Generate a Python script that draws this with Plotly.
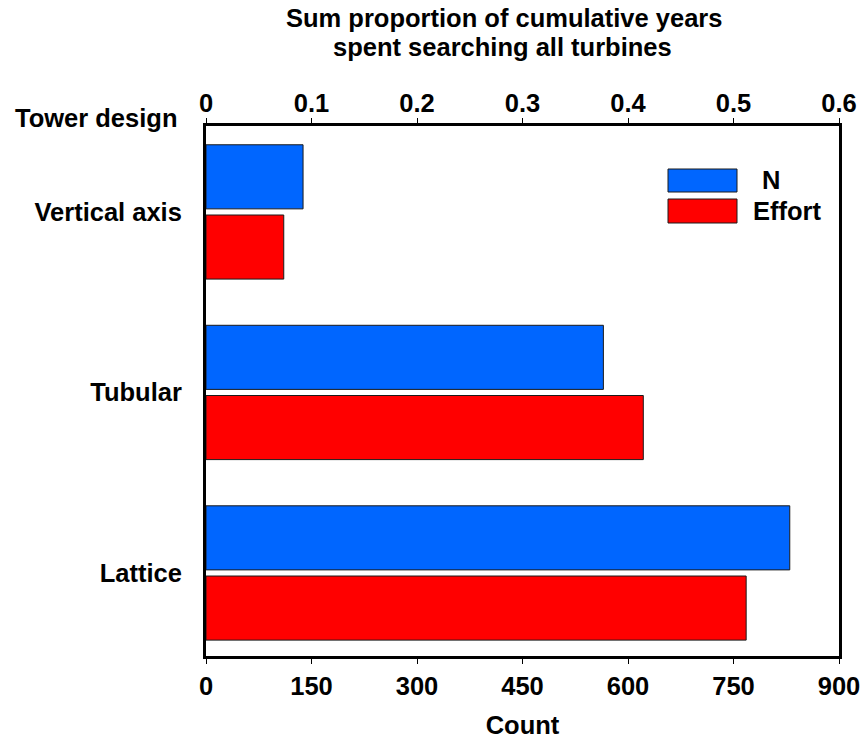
import plotly.graph_objects as go

categories = ["Lattice", "Tubular", "Vertical axis"]
n_counts = [830, 565, 138]
effort_prop = [0.512, 0.4145, 0.0737]
bottom_ticks = [0, 150, 300, 450, 600, 750, 900]
top_ticks = [0, 0.1, 0.2, 0.3, 0.4, 0.5, 0.6]

FONT = "Arial, Liberation Sans, Helvetica, sans-serif"
BLUE = "#0066FF"
RED = "#FF0000"
FS = 25.5

fig = go.Figure()
fig.add_trace(go.Bar(
    y=categories, x=n_counts, orientation="h", name="N",
    marker=dict(color=BLUE, line=dict(color="#1a1a1a", width=1)),
    width=0.355, offset=0.017, xaxis="x", yaxis="y", showlegend=False,
))
fig.add_trace(go.Bar(
    y=categories, x=effort_prop, orientation="h", name="Effort",
    marker=dict(color=RED, line=dict(color="#1a1a1a", width=1)),
    width=0.355, offset=-0.372, xaxis="x2", yaxis="y", showlegend=False,
))

tickfont = dict(family=FONT, size=FS, color="black", weight="bold")
bold = dict(family=FONT, size=FS, color="black", weight="bold")

fig.update_layout(
    width=862, height=742,
    margin=dict(l=206, r=23, t=126, b=86, autoexpand=False),
    paper_bgcolor="white", plot_bgcolor="white",
    barmode="overlay",
    xaxis=dict(
        range=[0, 900], tickvals=bottom_ticks, ticktext=[str(v) for v in bottom_ticks],
        showline=True, linecolor="black", linewidth=3, automargin=False,
        ticks="outside", ticklen=5, tickwidth=1, tickcolor="black",
        showgrid=False, zeroline=False, tickfont=tickfont,
        title=dict(text="Count", font=bold, standoff=18),
    ),
    xaxis2=dict(
        range=[0, 0.6], tickvals=top_ticks, ticktext=["0", "0.1", "0.2", "0.3", "0.4", "0.5", "0.6"],
        overlaying="x", side="top", anchor="y", automargin=False,
        showline=True, linecolor="black", linewidth=3,
        ticks="outside", ticklen=5, tickwidth=1, tickcolor="black",
        showgrid=False, zeroline=False, tickfont=tickfont,
        ticklabelstandoff=-4,
    ),
    yaxis=dict(
        type="category", categoryorder="array", categoryarray=categories,
        range=[-0.46, 2.476], automargin=False,
        showline=True, linecolor="black", linewidth=3, mirror=True,
        ticks="", showgrid=False, zeroline=False, tickfont=tickfont,
        ticklabelstandoff=16,
    ),
)

def py(v):
    return (656 - v) / 530

def px(v):
    return (v - 206) / 633

# title (two lines)
fig.add_annotation(text="Sum proportion of cumulative years", xref="paper", yref="paper",
                   x=px(504), y=py(18), xanchor="center", yanchor="middle", showarrow=False, font=bold)
fig.add_annotation(text="spent searching all turbines", xref="paper", yref="paper",
                   x=px(502), y=py(47), xanchor="center", yanchor="middle", showarrow=False, font=bold)

# legend drawn manually (wide swatches)
fig.add_shape(type="rect", xref="paper", yref="paper", x0=px(668), x1=px(737), y0=py(192), y1=py(169),
              fillcolor=BLUE, line=dict(color="#1a1a1a", width=1))
fig.add_shape(type="rect", xref="paper", yref="paper", x0=px(668), x1=px(737), y0=py(223), y1=py(199),
              fillcolor=RED, line=dict(color="#1a1a1a", width=1))
fig.add_annotation(text="N", xref="paper", yref="paper", x=px(760), y=py(180), xanchor="left", yanchor="middle",
                   showarrow=False, font=bold)
fig.add_annotation(text="Effort", xref="paper", yref="paper", x=px(751), y=py(211), xanchor="left", yanchor="middle",
                   showarrow=False, font=bold)

fig.add_annotation(text="Tower design", xref="paper", yref="paper", x=px(13), y=py(118),
                   xanchor="left", yanchor="middle", showarrow=False, font=bold)

fig.write_html("out.html",
               config={"displayModeBar": False},
               post_script="document.body.style.margin='0';document.body.style.overflow='hidden';")
